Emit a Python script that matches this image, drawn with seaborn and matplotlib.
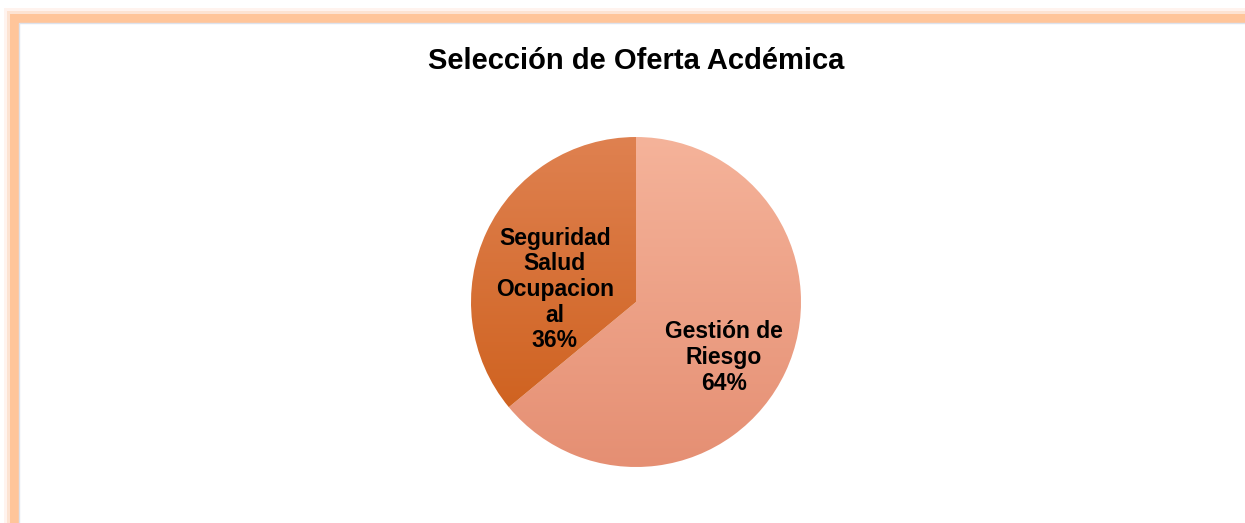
import matplotlib
matplotlib.use("Agg")
import matplotlib.pyplot as plt
from matplotlib.patches import Rectangle
import numpy as np
import seaborn as sns

# data
categories = ["Gestión de\nRiesgo", "Seguridad\nSalud\nOcupacion\nal"]
shares = [64, 36]
title = "Selección de Oferta Acdémica"

# top/bottom colours of each wedge's vertical gradient
gradients = [("#f5b39a", "#e58f73"), ("#df8150", "#cc5c16")]

sns.set_theme(style="white")
plt.rcParams["font.family"] = ["Liberation Sans", "DejaVu Sans"]

W, H = 1245, 523
fig = plt.figure(figsize=(W / 100, H / 100), dpi=100)
fig.patch.set_facecolor("white")

# orange frame with soft shadow (pixel coords, origin bottom-left)
for off, lw, col in [(6, 9, "#fff3ee"), (3, 9, "#fde3d2"), (0, 9, "#ffc59a")]:
    fig.patches.append(
        Rectangle((13.5 - off, -60), W + 100, H - 18 + off + 60,
                  transform=None, fill=False, lw=lw * 0.72, edgecolor=col,
                  zorder=-5 + off * -0.1)
    )
fig.patches.append(
    Rectangle((19, -60), W + 100, H - 22.5 + 60, transform=None,
              fill=False, lw=1.0, edgecolor="#dde2ec", zorder=-4)
)

# pie
cx, cy, r = 636, 302, 165
ax = fig.add_axes([(cx - r) / W, (H - cy - r) / H, 2 * r / W, 2 * r / H])
wedges, texts, autotexts = ax.pie(
    shares, startangle=90, counterclock=False, radius=1,
    autopct="%d%%", pctdistance=0.6, wedgeprops=dict(linewidth=0),
)

for wedge, (top, bottom) in zip(wedges, gradients):
    wedge.set_facecolor("none")
    pal = np.array(sns.blend_palette([top, bottom], 256))[:, None, :]
    im = ax.imshow(pal, extent=[-1, 1, -1, 1], origin="upper",
                   aspect="auto", zorder=1)
    im.set_clip_path(wedge)

nudges = [(-0.01, -0.08), (0.05, -0.18)]
for t, cat, val, (dx, dy) in zip(autotexts, categories, shares, nudges):
    t.set_text(f"{cat}\n{val}%")
    x, y = t.get_position()
    t.set_position((x + dx, y + dy))
    t.set_fontsize(16.5)
    t.set_fontweight("bold")
    t.set_color("black")
    t.set_multialignment("center")
    t.set_linespacing(1.15)
    t.set_zorder(5)

ax.set_xlim(-1, 1)
ax.set_ylim(-1, 1)
ax.set_aspect("equal")
ax.axis("off")

fig.text(cx / W, 1 - 61 / H, title, ha="center", va="center",
         fontsize=21, fontweight="bold", color="black")

fig.savefig("out.png", dpi=100)
